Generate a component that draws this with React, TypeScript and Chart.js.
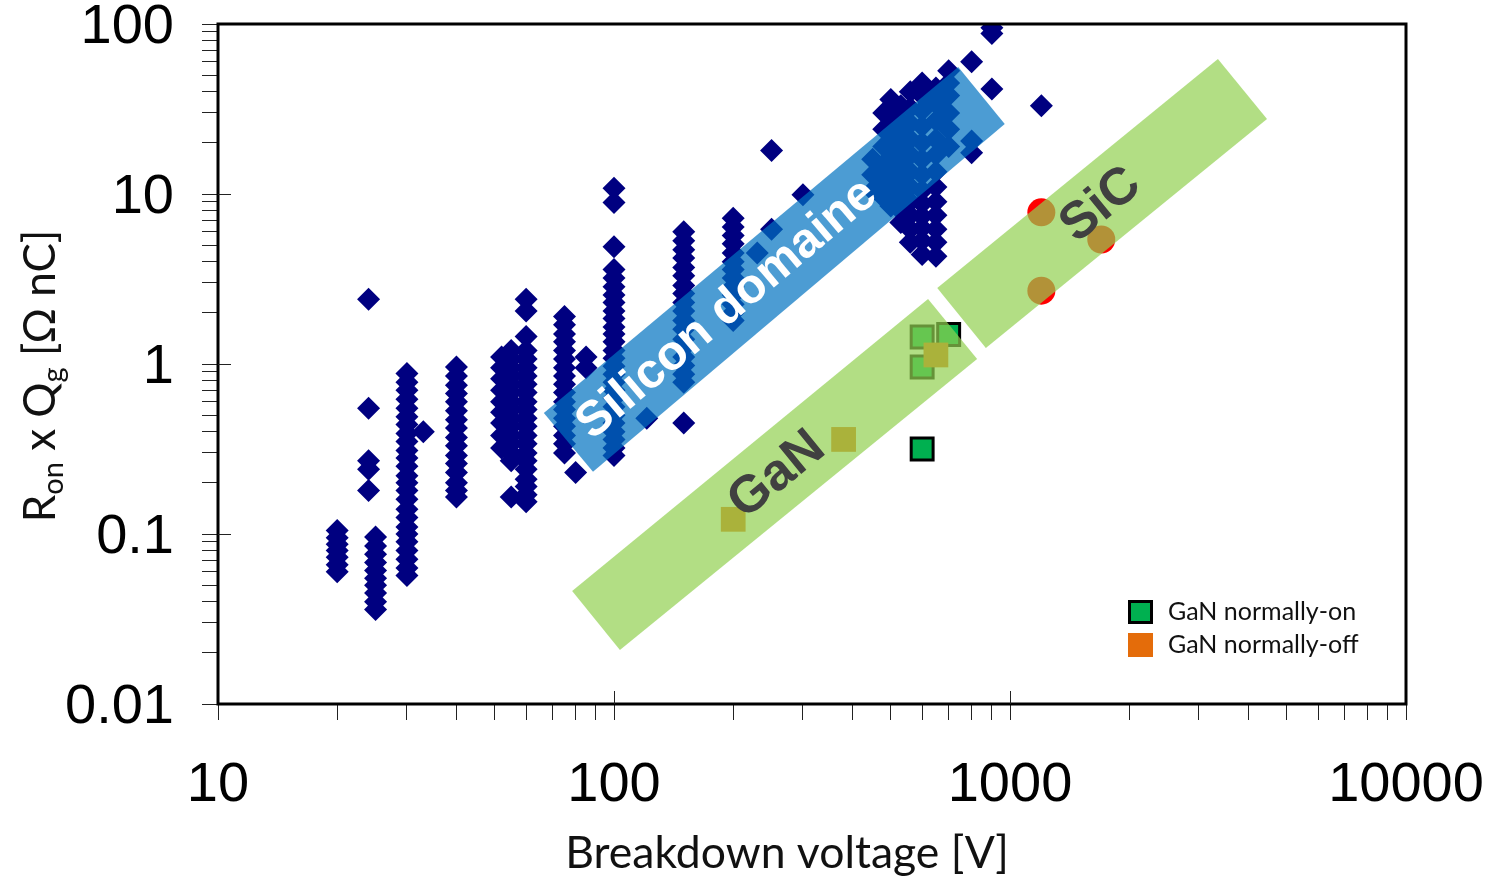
import React, { useEffect, useRef } from 'react';
import { Chart, registerables } from 'chart.js';

Chart.register(...registerables);

// ---- tick labels ----
const xTickLabels = ['10', '100', '1000', '10000'];
const yTickLabels = ['0.01', '0.1', '1', '10', '100'];

// ---- Si MOSFETs: breakdown voltage [V] and Ron x Qg [Ohm nC] per voltage class ----
const siVoltages = [20, 24, 25, 30, 33, 40, 52, 55, 60, 75, 80, 85, 100, 121, 150, 200, 230, 250, 300, 450, 480, 500, 530, 560, 600, 650, 700, 800, 900, 1200];
const siRonQg: number[][] = [
  [0.105, 0.095, 0.087, 0.08, 0.073, 0.066, 0.06],
  [2.4, 0.55, 0.27, 0.24, 0.18],
  [0.096, 0.085, 0.076, 0.068, 0.061, 0.055, 0.05, 0.045, 0.04, 0.036],
  [0.88, 0.78, 0.7, 0.62, 0.55, 0.49, 0.44, 0.39, 0.35, 0.31, 0.28, 0.25, 0.22, 0.2, 0.18, 0.16, 0.14, 0.125, 0.11, 0.1, 0.09, 0.08, 0.071, 0.063, 0.057],
  [0.4],
  [0.96, 0.85, 0.75, 0.67, 0.6, 0.53, 0.47, 0.42, 0.37, 0.33, 0.29, 0.26, 0.23, 0.2, 0.18, 0.165],
  [1.1, 0.95, 0.82, 0.7, 0.6, 0.52, 0.45, 0.38, 0.32],
  [1.2, 1.07, 0.95, 0.85, 0.76, 0.68, 0.6, 0.54, 0.48, 0.43, 0.38, 0.34, 0.3, 0.27, 0.165],
  [2.4, 2.05, 1.45, 1.2, 1.07, 0.95, 0.85, 0.76, 0.68, 0.6, 0.54, 0.48, 0.43, 0.38, 0.34, 0.3, 0.27, 0.24, 0.21, 0.19, 0.17, 0.155],
  [1.9, 1.7, 1.5, 1.35, 1.2, 1.07, 0.95, 0.85, 0.76, 0.68, 0.6, 0.54, 0.48, 0.43, 0.38, 0.34, 0.3],
  [0.23],
  [1.1, 0.95],
  [10.8, 8.9, 4.9, 3.6, 3.2, 2.85, 2.55, 2.3, 2.05, 1.85, 1.65, 1.5, 1.35, 1.2, 1.08, 0.97, 0.87, 0.78, 0.7, 0.63, 0.56, 0.5, 0.45, 0.4, 0.36, 0.32, 0.29],
  [0.48],
  [6.0, 5.3, 4.7, 4.2, 3.7, 3.3, 2.9, 2.6, 2.3, 2.05, 1.8, 1.6, 1.4, 1.25, 1.1, 0.98, 0.87, 0.78, 0.45],
  [7.2, 6.4, 5.7, 5.1, 4.5, 4.0, 3.6, 3.2, 2.85, 2.55, 2.25, 2.0, 1.8],
  [4.5],
  [18, 6.2],
  [9.9],
  [16, 13, 10.5],
  [30, 24, 19, 15, 12, 9.5],
  [36, 30, 25, 20, 16, 13, 10.5, 8.5],
  [33, 27, 22, 18, 14.5, 11.5, 9.5, 8, 6.8],
  [40, 32, 26, 21, 17, 13.5, 11, 9, 7.5, 6.2, 5.2],
  [45, 38, 31, 25, 20, 16, 13, 10.5, 8.8, 7.4, 6.3, 5.3, 4.4],
  [42, 34, 27, 21, 17, 13.5, 11, 9, 7.5, 6.2, 5.2, 4.3],
  [53, 45, 38, 30, 24, 19],
  [60, 20.5, 17.5],
  [95, 88, 41.5],
  [33],
];

// ---- GaN and SiC devices ----
const ganOnVoltage = [600, 600, 600, 700];
const ganOnRonQg = [0.316, 1.44, 0.96, 1.49];
const ganOffVoltage = [200, 380, 650];
const ganOffRonQg = [0.122, 0.36, 1.13];
const sicVoltage = [1200, 1200, 1700];
const sicRonQg = [7.8, 2.7, 5.4];

// ---- technology bands (corners in data units: [V, Ohm nC]) ----
const siliconBand = [[66.5, 0.515], [88.5, 0.232], [970, 25.8], [740, 55.8]];
const ganBand = [[78.4, 0.0462], [103.5, 0.0208], [826, 1.07], [621, 2.41]];
const sicBand = [[655, 2.8], [869, 1.24], [4457, 27.6], [3350, 62.2]];
const bandLabels = ['Silicon domaine', 'GaN', 'SiC'];
const bandLabelCenters = [[193, 2.1], [258, 0.222], [1698, 8.6]];

const NAVY = '#000080';
const GREEN = '#00B050';
const ORANGE = '#E46C0A';
const RED = '#FF0000';

const toPoints = (xs: number[], ys: number[]) => xs.map((v, i) => ({ x: v, y: ys[i] }));

const isPow10 = (v: number) => {
  const l = Math.log10(v);
  return Math.abs(l - Math.round(l)) < 1e-6;
};

const overlayPlugin = {
  id: 'overlay',
  afterDatasetsDraw(chart: any) {
    const { ctx, chartArea, scales } = chart;
    const xs = scales.x;
    const ys = scales.y;
    const bands = [
      { corners: siliconBand, color: 'rgba(0,114,192,0.7)', label: bandLabels[0], center: bandLabelCenters[0], textColor: '#FFFFFF', font: 'bold 49px "Liberation Sans", Arial, sans-serif' },
      { corners: ganBand, color: 'rgba(146,208,80,0.7)', label: bandLabels[1], center: bandLabelCenters[1], textColor: '#404040', font: 'bold 52px "Liberation Sans", Arial, sans-serif' },
      { corners: sicBand, color: 'rgba(146,208,80,0.7)', label: bandLabels[2], center: bandLabelCenters[2], textColor: '#404040', font: 'bold 52px "Liberation Sans", Arial, sans-serif' },
    ];
    ctx.save();
    ctx.beginPath();
    ctx.rect(chartArea.left, chartArea.top, chartArea.right - chartArea.left, chartArea.bottom - chartArea.top);
    ctx.clip();
    for (const b of bands) {
      const pts = b.corners.map(([vx, vy]) => [xs.getPixelForValue(vx), ys.getPixelForValue(vy)]);
      ctx.beginPath();
      pts.forEach((p, i) => (i ? ctx.lineTo(p[0], p[1]) : ctx.moveTo(p[0], p[1])));
      ctx.closePath();
      ctx.fillStyle = b.color;
      ctx.fill();
    }
    for (const b of bands) {
      const pts = b.corners.map(([vx, vy]) => [xs.getPixelForValue(vx), ys.getPixelForValue(vy)]);
      const angle = Math.atan2(pts[2][1] - pts[1][1], pts[2][0] - pts[1][0]);
      const cx = xs.getPixelForValue(b.center[0]);
      const cy = ys.getPixelForValue(b.center[1]);
      ctx.save();
      ctx.translate(cx, cy);
      ctx.rotate(angle);
      ctx.font = b.font;
      ctx.fillStyle = b.textColor;
      ctx.textAlign = 'center';
      ctx.textBaseline = 'middle';
      ctx.fillText(b.label, 0, 0);
      ctx.restore();
    }
    ctx.restore();
  },
};

const decorPlugin = {
  id: 'decor',
  afterDraw(chart: any) {
    const { ctx, chartArea, scales } = chart;
    const xs = scales.x;
    const ys = scales.y;
    ctx.save();
    // frame
    ctx.strokeStyle = '#000';
    ctx.lineWidth = 3;
    ctx.strokeRect(chartArea.left, chartArea.top, chartArea.right - chartArea.left, chartArea.bottom - chartArea.top);
    // major ticks extending inward
    ctx.lineWidth = 1;
    ctx.strokeStyle = '#222';
    xs.ticks.forEach((t: any) => {
      if (isPow10(t.value) && t.value > xs.min && t.value < xs.max) {
        const px = Math.round(xs.getPixelForValue(t.value)) + 0.5;
        ctx.beginPath();
        ctx.moveTo(px, chartArea.bottom);
        ctx.lineTo(px, chartArea.bottom - 13);
        ctx.stroke();
      }
    });
    ys.ticks.forEach((t: any) => {
      if (isPow10(t.value) && t.value > ys.min && t.value < ys.max) {
        const py = Math.round(ys.getPixelForValue(t.value)) + 0.5;
        ctx.beginPath();
        ctx.moveTo(chartArea.left, py);
        ctx.lineTo(chartArea.left + 13, py);
        ctx.stroke();
      }
    });

    // legend
    const items = [chart.data.datasets[1], chart.data.datasets[0]];
    const lx = chartArea.right - 278;
    let ly = chartArea.bottom - 104;
    ctx.font = '25px Lato, "Open Sans", sans-serif';
    ctx.textBaseline = 'middle';
    ctx.textAlign = 'left';
    items.forEach((ds: any) => {
      ctx.fillStyle = ds.backgroundColor;
      ctx.fillRect(lx, ly, 25, 24);
      if (ds.borderWidth) {
        ctx.lineWidth = 3;
        ctx.strokeStyle = '#000';
        ctx.strokeRect(lx + 1.5, ly + 1.5, 22, 21);
      }
      ctx.fillStyle = '#111';
      ctx.fillText(ds.label, lx + 40, ly + 12);
      ly += 33;
    });

    // x title
    ctx.fillStyle = '#111';
    ctx.font = '44.5px Lato, "Open Sans", sans-serif';
    ctx.textAlign = 'center';
    ctx.textBaseline = 'alphabetic';
    ctx.fillText('Breakdown voltage [V]', chartArea.left + 569, chartArea.bottom + 164);

    // y title with subscripts
    const parts: [string, boolean][] = [['R', false], ['on', true], [' x Q', false], ['g', true], [' [\u03A9 nC]', false]];
    const mainFont = '44px Lato, "Open Sans", sans-serif';
    const subFont = '29px Lato, "Open Sans", sans-serif';
    let total = 0;
    parts.forEach(([t, s]) => {
      ctx.font = s ? subFont : mainFont;
      total += ctx.measureText(t).width;
    });
    ctx.save();
    ctx.translate(chartArea.left - 163, (chartArea.top + chartArea.bottom) / 2 + 12);
    ctx.rotate(-Math.PI / 2);
    ctx.textAlign = 'left';
    let cx = -total / 2;
    parts.forEach(([t, s]) => {
      ctx.font = s ? subFont : mainFont;
      ctx.fillText(t, cx, s ? 8 : 0);
      cx += ctx.measureText(t).width;
    });
    ctx.restore();
    ctx.restore();
  },
};

const buildLogTicks = (labels: string[]) => {
  const ticks: { value: number }[] = [];
  const decades = labels.map(Number);
  decades.forEach((d, i) => {
    if (i === decades.length - 1) {
      ticks.push({ value: d });
      return;
    }
    for (let m = 1; m <= 9; m++) ticks.push({ value: +(d * m).toPrecision(6) });
  });
  return ticks;
};

const labelFor = (labels: string[]) => (value: any) => {
  const v = Number(value);
  if (!isPow10(v)) return '';
  const found = labels.find((l) => Math.abs(Number(l) - v) / v < 1e-6);
  return found ?? '';
};

const zeroPadding = (s: any) => {
  s.paddingLeft = 0;
  s.paddingRight = 0;
  s.paddingTop = 0;
  s.paddingBottom = 0;
};

export default function App() {
  const canvasRef = useRef<HTMLCanvasElement | null>(null);

  useEffect(() => {
    if (!canvasRef.current) return;
    const siPoints = siVoltages.flatMap((v, i) => siRonQg[i].map((r) => ({ x: v, y: r })));
    const tickFont = { family: '"Liberation Sans", Arial, sans-serif', size: 56 };
    const chart = new Chart(canvasRef.current, {
      type: 'scatter',
      data: {
        datasets: [
          {
            label: 'GaN normally-off',
            data: toPoints(ganOffVoltage, ganOffRonQg),
            backgroundColor: ORANGE,
            borderColor: ORANGE,
            borderWidth: 0,
            pointStyle: 'rect',
            pointRadius: 17.5,
          },
          {
            label: 'GaN normally-on',
            data: toPoints(ganOnVoltage, ganOnRonQg),
            backgroundColor: GREEN,
            borderColor: '#000000',
            borderWidth: 3,
            pointStyle: 'rect',
            pointRadius: 15.5,
          },
          {
            label: 'SiC',
            data: toPoints(sicVoltage, sicRonQg),
            backgroundColor: RED,
            borderColor: RED,
            borderWidth: 0,
            pointStyle: 'circle',
            pointRadius: 14,
          },
          {
            label: 'Si',
            data: siPoints,
            backgroundColor: NAVY,
            borderColor: NAVY,
            borderWidth: 0,
            pointStyle: 'rectRot',
            pointRadius: 11.5,
          },
        ],
      },
      options: {
        animation: false,
        responsive: false,
        devicePixelRatio: 1,
        layout: { padding: { left: 0, top: 24, right: 82, bottom: 0 } },
        plugins: {
          legend: { display: false },
          tooltip: { enabled: false },
        },
        scales: {
          x: {
            type: 'logarithmic',
            min: 10,
            max: 10000,
            afterFit: (s: any) => {
              s.height = 173;
              zeroPadding(s);
            },
            afterBuildTicks: (s: any) => {
              s.ticks = buildLogTicks(xTickLabels);
            },
            border: { display: false },
            grid: { drawOnChartArea: false, drawTicks: true, tickLength: 16, color: '#222', tickColor: '#222', lineWidth: 1 },
            ticks: {
              autoSkip: false,
              maxRotation: 0,
              color: '#000',
              font: tickFont,
              padding: 32,
              callback: labelFor(xTickLabels),
            },
          },
          y: {
            type: 'logarithmic',
            min: 0.01,
            max: 100,
            afterFit: (s: any) => {
              s.width = 218;
              zeroPadding(s);
            },
            afterBuildTicks: (s: any) => {
              s.ticks = buildLogTicks(yTickLabels);
            },
            border: { display: false },
            grid: { drawOnChartArea: false, drawTicks: true, tickLength: 16, color: '#222', tickColor: '#222', lineWidth: 1 },
            ticks: {
              autoSkip: false,
              color: '#000',
              font: tickFont,
              padding: 28,
              labelOffset: 4,
              callback: labelFor(yTickLabels),
            },
          },
        },
      },
      plugins: [overlayPlugin, decorPlugin],
    } as any);
    return () => chart.destroy();
  }, []);

  return (
    <div style={{ position: 'absolute', left: 0, top: 0, width: 1488, height: 877, background: '#fff' }}>
      <canvas ref={canvasRef} width={1488} height={877} style={{ display: 'block' }} />
    </div>
  );
}
